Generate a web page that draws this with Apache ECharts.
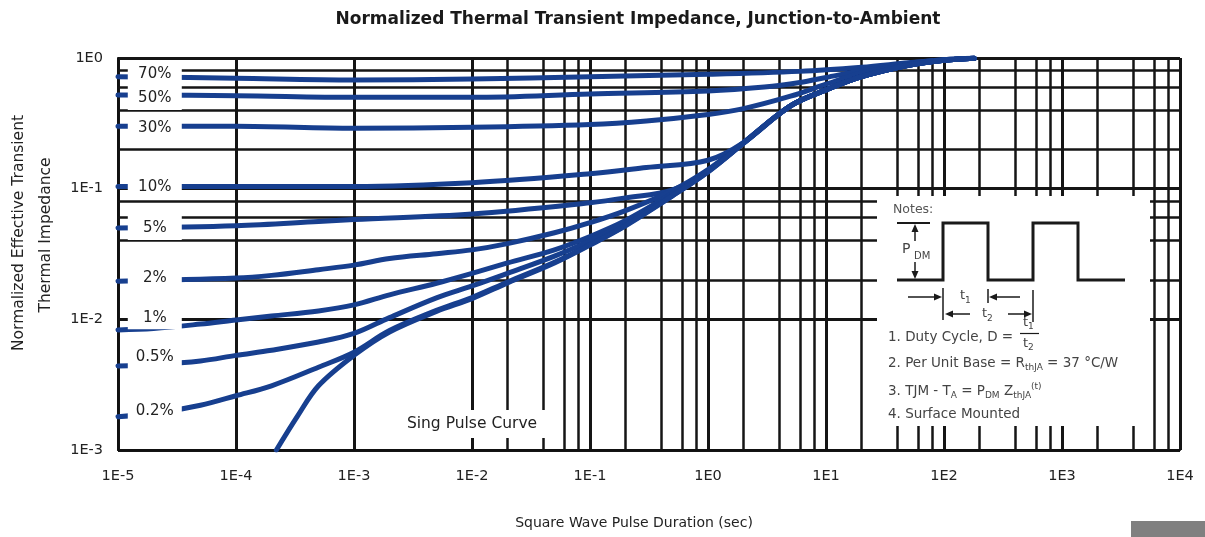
<!DOCTYPE html>
<html><head><meta charset="utf-8">
<script src="https://cdn.jsdelivr.net/npm/echarts@6/dist/echarts.min.js"></script>
<style>html,body{margin:0;padding:0;background:#fff}#c{width:1205px;height:537px}</style>
</head><body><div id="c"></div>
<script>
const FONT = '"Liberation Sans", Arial, Helvetica, sans-serif';
const WFONT = '"DejaVu Sans", Verdana, sans-serif';
const BLUE = '#173f8f';
const GRIDC = '#151515';

// axis ranges and grid
const xRange = [1e-5, 1e4];
const yRange = [1e-3, 1];
const gridMantissas = [2, 4, 6, 8];
const xGridExponents = [-5, -4, -3, -2, -1, 0, 1, 2, 3];
const yGridExponents = [-3, -2, -1];

// curves: [pulse duration (s), normalized Zth]
const curve70 = [[1e-5,0.72],[1e-4,0.70],[1e-3,0.68],[1e-2,0.69],[0.1,0.72],[1,0.75],[6,0.79],[20,0.85],[50,0.92],[100,0.97],[180,0.995]];
const curve50 = [[1e-5,0.52],[1e-4,0.515],[1e-3,0.50],[1e-2,0.50],[0.1,0.53],[1,0.56],[3,0.60],[6,0.65],[10,0.71],[20,0.80],[50,0.91],[100,0.97],[180,0.995]];
const curve30 = [[1e-5,0.30],[1e-4,0.30],[1e-3,0.29],[1e-2,0.295],[0.1,0.31],[0.3,0.33],[1,0.37],[2,0.41],[5,0.51],[10,0.63],[20,0.77],[50,0.89],[100,0.96],[180,0.995]];
const curve10 = [[1e-5,0.104],[1e-4,0.104],[1e-3,0.104],[1e-2,0.111],[0.1,0.13],[0.3,0.145],[1,0.165],[2,0.225],[5,0.43],[10,0.57],[20,0.72],[50,0.88],[100,0.96],[180,0.995]];
const curve5  = [[1e-5,0.050],[1e-4,0.052],[5e-4,0.056],[1e-3,0.058],[1e-2,0.064],[0.1,0.078],[0.2,0.085],[0.5,0.098],[1,0.137],[2,0.225],[5,0.43],[10,0.57],[20,0.72],[50,0.88],[100,0.96],[180,0.995]];
const curve2  = [[1e-5,0.0196],[1e-4,0.0207],[2e-4,0.0217],[5e-4,0.024],[1e-3,0.026],[2e-3,0.0292],[5e-3,0.0318],[1e-2,0.034],[2e-2,0.038],[5e-2,0.046],[0.1,0.055],[0.2,0.068],[0.5,0.097],[1,0.14],[2,0.225],[5,0.43],[10,0.57],[20,0.72],[50,0.88],[100,0.96],[180,0.995]];
const curve1  = [[1e-5,0.0083],[2e-5,0.0085],[5e-5,0.0092],[1e-4,0.0099],[2e-4,0.0106],[5e-4,0.0116],[1e-3,0.0129],[2e-3,0.0154],[5e-3,0.0189],[1e-2,0.0225],[2e-2,0.027],[5e-2,0.034],[0.1,0.043],[0.2,0.057],[0.5,0.092],[1,0.137],[2,0.224],[5,0.43],[10,0.57],[20,0.72],[50,0.88],[100,0.96],[180,0.995]];
const curve05 = [[1e-5,0.0044],[2e-5,0.0045],[5e-5,0.0048],[1e-4,0.0053],[2e-4,0.0058],[5e-4,0.0067],[1e-3,0.0078],[2e-3,0.0103],[5e-3,0.0146],[1e-2,0.018],[2e-2,0.0225],[5e-2,0.0305],[0.1,0.040],[0.2,0.0545],[0.5,0.09],[1,0.136],[2,0.223],[5,0.43],[10,0.57],[20,0.72],[50,0.88],[100,0.96],[180,0.995]];
const curve02 = [[1e-5,0.0018],[2e-5,0.0019],[5e-5,0.0022],[1e-4,0.0026],[2e-4,0.0031],[5e-4,0.0043],[1e-3,0.0056],[2e-3,0.0082],[5e-3,0.0117],[1e-2,0.0147],[2e-2,0.0193],[5e-2,0.0273],[0.1,0.0374],[0.2,0.0525],[0.5,0.0885],[1,0.135],[2,0.223],[5,0.43],[10,0.57],[20,0.72],[50,0.88],[100,0.96],[180,0.995]];
const singlePulse = [[2.2e-4,0.001],[3.3e-4,0.0018],[5e-4,0.0031],[1e-3,0.0053],[2e-3,0.0080],[5e-3,0.0115],[1e-2,0.0144],[2e-2,0.019],[5e-2,0.027],[0.1,0.037],[0.2,0.052],[0.5,0.088],[1,0.134],[2,0.222],[5,0.43],[10,0.57],[20,0.72],[50,0.88],[100,0.96],[180,0.995]];

const dutyNames = ['70%','50%','30%','10%','5%','2%','1%','0.5%','0.2%'];
const dutyCurves = [curve70, curve50, curve30, curve10, curve5, curve2, curve1, curve05, curve02];
const dutyLabelValues = [0.754, 0.494, 0.291, 0.103, 0.050, 0.0207, 0.0102, 0.0051, 0.0020];
const dutyLabelPads = [4, 4, 4, 4, 4, 4, 3, 4, 4];
const dutyLabelPulse = 2.05e-5;
const singleName = 'Sing Pulse Curve';
const singleLabelPoint = [1.0e-2, 1.58e-3];

const xMinor = [], yMinor = [];
xGridExponents.forEach(e => gridMantissas.forEach(m => xMinor.push(m * Math.pow(10, e))));
yGridExponents.forEach(e => gridMantissas.forEach(m => yMinor.push(m * Math.pow(10, e))));

const expLabel = v => '1E' + Math.round(Math.log10(v));

const labelStyle = {
  show: true, position: 'inside', fontFamily: WFONT, fontSize: 15, color: '#222',
  backgroundColor: '#fff', padding: [3, 5], width: 44, height: 16, lineHeight: 16, align: 'center'
};

const series = [];
series.push({
  type: 'line', data: [[xRange[0], yRange[0]]], showSymbol: false, symbol: 'none',
  lineStyle: { width: 0 }, silent: true, z: 1, animation: false,
  markLine: {
    silent: true, symbol: ['none', 'none'], label: { show: false }, z: 1, animation: false,
    lineStyle: { color: GRIDC, width: 2.5, type: 'solid' },
    emphasis: { disabled: true },
    data: xMinor.map(v => ({ xAxis: v })).concat(yMinor.map(v => ({ yAxis: v })))
  }
});
dutyCurves.forEach((d, i) => {
  series.push({
    type: 'line', name: dutyNames[i], data: d, smooth: 0.35,
    showSymbol: false, symbol: 'none', silent: true, z: 3, animation: false,
    lineStyle: { color: BLUE, width: 5, cap: 'round', join: 'round' },
    markPoint: {
      symbol: 'circle', symbolSize: 1, itemStyle: { color: 'rgba(0,0,0,0)' }, z: 10, silent: true, animation: false,
      label: Object.assign({}, labelStyle, { formatter: dutyNames[i], padding: [dutyLabelPads[i], 5] }),
      data: [{ coord: [dutyLabelPulse, dutyLabelValues[i]] }]
    }
  });
});
series.push({
  type: 'line', name: singleName, data: singlePulse, smooth: 0.35,
  showSymbol: false, symbol: 'none', silent: true, z: 3, animation: false,
  lineStyle: { color: BLUE, width: 5, cap: 'round', join: 'round' },
  markPoint: {
    symbol: 'circle', symbolSize: 1, itemStyle: { color: 'rgba(0,0,0,0)' }, z: 10, silent: true, animation: false,
    label: Object.assign({}, labelStyle, { formatter: singleName, width: 151, padding: [6, 12], fontSize: 15.5 }),
    data: [{ coord: singleLabelPoint }]
  }
});

function txt(x, y, text, size, opts) {
  opts = opts || {};
  return {
    type: 'text', x: x, y: y, z: opts.z || 30, rotation: opts.rotation || 0, silent: true,
    style: Object.assign({
      text: text, fontFamily: opts.font || WFONT, fontSize: size, fontWeight: opts.bold ? 'bold' : 'normal',
      fill: opts.fill || '#444',
      align: opts.align || 'left', textAlign: opts.align || 'left',
      verticalAlign: 'middle', textVerticalAlign: 'middle'
    }, opts.style || {})
  };
}
function ln(x1, y1, x2, y2, w) {
  return { type: 'line', z: 30, silent: true, shape: { x1: x1, y1: y1, x2: x2, y2: y2 }, style: { stroke: '#1a1a1a', lineWidth: w || 1.5 } };
}
function tri(pts) {
  return { type: 'polygon', z: 30, silent: true, shape: { points: pts }, style: { fill: '#1a1a1a' } };
}
const richBase = {
  a: { fontFamily: WFONT, fontSize: 13.5, lineHeight: 18, fill: '#444', color: '#444', verticalAlign: 'middle' },
  s: { fontFamily: WFONT, fontSize: 9, lineHeight: 9, fill: '#444', color: '#444', verticalAlign: 'bottom' },
  p: { fontFamily: WFONT, fontSize: 9, lineHeight: 9, fill: '#444', color: '#444', verticalAlign: 'top' }
};

const graphic = [
  txt(638, 20, 'Normalized Thermal Transient Impedance, Junction-to-Ambient', 17, { bold: true, fill: '#1a1a1a', align: 'center' }),
  txt(19, 233, 'Normalized Effective Transient', 15.5, { fill: '#222', align: 'center', rotation: Math.PI / 2 }),
  txt(46, 235, 'Thermal Impedance', 15.5, { fill: '#222', align: 'center', rotation: Math.PI / 2 }),
  txt(634, 523, 'Square Wave Pulse Duration (sec)', 14, { fill: '#222', align: 'center' }),
  { type: 'rect', z: 30, silent: true, shape: { x: 1131, y: 521, width: 74, height: 16 }, style: { fill: '#808080' } },
  // notes box
  { type: 'rect', z: 20, silent: true, shape: { x: 877, y: 196, width: 273, height: 230 }, style: { fill: '#fff' } },
  txt(893, 210, 'Notes:', 12.5, { fill: '#555' }),
  { type: 'polyline', z: 30, silent: true,
    shape: { points: [[897,280],[943,280],[943,223],[988,223],[988,280],[1033,280],[1033,223],[1078,223],[1078,280],[1125,280]] },
    style: { stroke: '#1a1a1a', lineWidth: 3, fill: null, lineJoin: 'miter' } },
  ln(897, 223, 930, 223, 2),
  ln(915, 230, 915, 241, 1.5), tri([[915,224],[911.5,232],[918.5,232]]),
  ln(915, 262, 915, 273, 1.5), tri([[915,279],[911.5,271],[918.5,271]]),
  txt(902, 249, 'P', 14), txt(914, 256, 'DM', 10),
  // t1 row
  ln(908, 297, 936, 297, 1.5), tri([[942,297],[934,293.5],[934,300.5]]),
  ln(943, 288, 943, 320, 1.5),
  ln(988, 289, 988, 303, 1.5),
  ln(1020, 297, 995, 297, 1.5), tri([[989,297],[997,293.5],[997,300.5]]),
  txt(960, 296, 't', 13), txt(965, 301, '1', 9),
  // t2 row
  ln(970, 314, 952, 314, 1.5), tri([[945,314],[953,310.5],[953,317.5]]),
  ln(1008, 314, 1025, 314, 1.5), tri([[1032,314],[1024,310.5],[1024,317.5]]),
  ln(1033, 290, 1033, 322, 1.5),
  txt(982, 314, 't', 13), txt(987, 319, '2', 9),
  // notes text
  txt(888, 337, '1. Duty Cycle, D =', 13.5),
  txt(1023, 323, 't', 13), txt(1028, 327, '1', 9),
  ln(1020, 333.5, 1039, 333.5, 1.2),
  txt(1023, 344, 't', 13), txt(1028, 348, '2', 9),
  { type: 'text', x: 888, y: 363, z: 30, silent: true,
    style: { text: '{a|2. Per Unit Base = R}{s|thJA}{a| = 37 °C/W}', rich: richBase, fontFamily: WFONT, fontSize: 13.5, fill: '#444',
      verticalAlign: 'middle', textVerticalAlign: 'middle', align: 'left', textAlign: 'left' } },
  { type: 'text', x: 888, y: 391, z: 30, silent: true,
    style: { text: '{a|3. TJM - T}{s|A}{a| = P}{s|DM}{a| Z}{s|thJA}{p|(t)}', rich: richBase, fontFamily: WFONT, fontSize: 13.5, fill: '#444',
      verticalAlign: 'middle', textVerticalAlign: 'middle', align: 'left', textAlign: 'left' } },
  txt(888, 414, '4. Surface Mounted', 13.5)
];

const chart = echarts.init(document.getElementById('c'), null, { renderer: 'canvas' });
chart.setOption({
  animation: false,
  backgroundColor: '#fff',
  grid: { left: 118, right: 25, top: 58, bottom: 87, containLabel: false, outerBoundsMode: 'none' },
  xAxis: {
    type: 'log', logBase: 10, min: xRange[0], max: xRange[1],
    axisLine: { show: true, onZero: false, lineStyle: { color: '#111', width: 2 } },
    axisTick: { show: false },
    axisLabel: { formatter: expLabel, fontFamily: WFONT, fontSize: 14.5, color: '#222', margin: 19, showMinLabel: true, showMaxLabel: true },
    splitLine: { show: true, showMinLine: true, showMaxLine: true, lineStyle: { color: GRIDC, width: 3 } }
  },
  yAxis: {
    type: 'log', logBase: 10, min: yRange[0], max: yRange[1],
    axisLine: { show: true, onZero: false, lineStyle: { color: '#111', width: 2 } },
    axisTick: { show: false },
    axisLabel: { formatter: expLabel, fontFamily: WFONT, fontSize: 14.5, color: '#222', margin: 15, showMinLabel: true, showMaxLabel: true },
    splitLine: { show: true, showMinLine: true, showMaxLine: true, lineStyle: { color: GRIDC, width: 3 } }
  },
  series: series,
  graphic: graphic
});
</script>
</body></html>
